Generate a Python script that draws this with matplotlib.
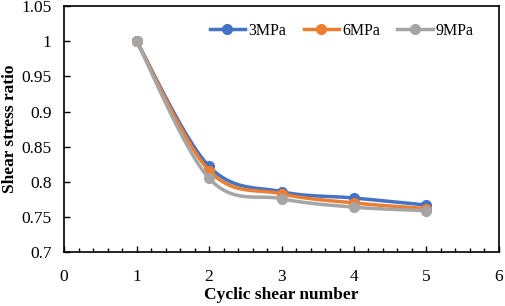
import matplotlib.pyplot as plt
import numpy as np

plt.rcParams['font.family'] = ['Liberation Serif', 'DejaVu Serif']

cycles = [1, 2, 3, 4, 5]
ratio_3mpa = [1.0, 0.822, 0.786, 0.777, 0.767]
ratio_6mpa = [1.0, 0.816, 0.783, 0.770, 0.762]
ratio_9mpa = [1.0, 0.805, 0.776, 0.764, 0.759]
labels = ['3MPa', '6MPa', '9MPa']
colors = ['#4472C4', '#ED7D31', '#A5A5A5']


def smooth(x, y, n=30):
    # Excel-like smoothed line: cubic Bezier through points (Catmull-Rom)
    x = np.asarray(x, float)
    y = np.asarray(y, float)
    px = np.concatenate([[x[0]], x, [x[-1]]])
    py = np.concatenate([[y[0]], y, [y[-1]]])
    t = np.linspace(0, 1, n)
    xs, ys = [], []
    for i in range(1, len(px) - 2):
        p0 = np.array([px[i], py[i]])
        p3 = np.array([px[i + 1], py[i + 1]])
        p1 = p0 + (np.array([px[i + 1], py[i + 1]]) - np.array([px[i - 1], py[i - 1]])) / 6
        p2 = p3 - (np.array([px[i + 2], py[i + 2]]) - np.array([px[i], py[i]])) / 6
        b = ((1 - t) ** 3)[:, None] * p0 + (3 * (1 - t) ** 2 * t)[:, None] * p1 \
            + (3 * (1 - t) * t ** 2)[:, None] * p2 + (t ** 3)[:, None] * p3
        xs.extend(b[:, 0])
        ys.extend(b[:, 1])
    return xs, ys


fig = plt.figure(figsize=(5.05, 3.06), dpi=100)
ax = fig.add_axes([0.127, 0.176, 0.861, 0.804])

for vals, lab, c in zip([ratio_3mpa, ratio_6mpa, ratio_9mpa], labels, colors):
    sx, sy = smooth(cycles, vals)
    ax.plot(sx, sy, color=c, linewidth=2.5)
    ax.plot(cycles, vals, 'o', color=c, markersize=7)
    ax.plot([], [], '-o', color=c, linewidth=2.5, markersize=7, label=lab)

ax.set_xlim(0, 6)
ax.set_ylim(0.7, 1.05)
ax.set_xticks(range(0, 7))
ax.set_xticks(np.arange(0, 6.01, 0.2), minor=True)
ax.set_yticks([0.7, 0.75, 0.8, 0.85, 0.9, 0.95, 1.0, 1.05])
ax.set_yticklabels(['0.7', '0.75', '0.8', '0.85', '0.9', '0.95', '1', '1.05'])
ax.tick_params(axis='y', direction='in', labelsize=12.5, length=4, width=1, pad=9)
ax.tick_params(axis='x', direction='in', labelsize=12.5, length=4, width=1, pad=12)
ax.tick_params(axis='x', which='minor', direction='in', length=3, width=1)
for s in ax.spines.values():
    s.set_linewidth(1.2)

ax.set_xlabel('Cyclic shear number', fontsize=12.5, fontweight='bold')
ax.set_ylabel('Shear stress ratio', fontsize=12.5, fontweight='bold')
ax.xaxis.set_label_coords(0.5, -0.14)
ax.yaxis.set_label_coords(-0.106, 0.5)

ax.legend(loc='upper right', ncol=3, frameon=False, fontsize=11.5,
          handlelength=2.2, handletextpad=0.2, columnspacing=1.1,
          bbox_to_anchor=(0.975, 0.99))

fig.savefig('out.png', dpi=100)
